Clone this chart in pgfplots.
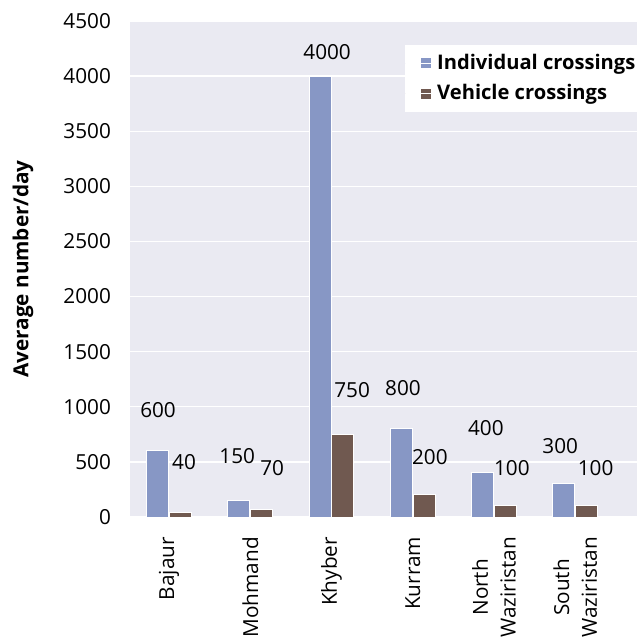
\documentclass[border=0pt]{standalone}
\usepackage{pgfplots}
\pgfplotsset{compat=1.18}
\usepackage{fontspec}
\setmainfont{Open Sans}
\definecolor{bg}{HTML}{EAEAF2}
\definecolor{cblue}{HTML}{8797C5}
\definecolor{cbrown}{HTML}{705950}
\begin{document}
\fontsize{20.8}{28}\selectfont
\begin{tikzpicture}
\begin{axis}[
 scale only axis, width=507bp, height=496bp,
 xmin=-0.48, xmax=5.76, ymin=0, ymax=4500,
 axis background/.style={fill=bg},
 axis line style={draw=none},
 major tick length=0pt,
 /pgf/number format/assume math mode=true,
 scaled y ticks=false,
 yticklabel style={/pgf/number format/1000 sep={}},
 ytick={0,500,...,4500},
 ymajorgrids, grid style={white, line width=1.3bp},
 xtick={0,1,2,3,4,5},
 xticklabels={Bajaur, Mohmand, Khyber, Kurram, North\\Waziristan, South\\Waziristan},
 xticklabel style={rotate=90, anchor=east, align=center},
 xticklabel shift=13bp,
 yticklabel shift=12bp,
 ylabel={Average number/day},
 ylabel style={at={(axis description cs:-0.211,0.5)}, anchor=center, font=\bfseries},
 legend style={at={(0.5424,0.9516)}, anchor=north west, fill=white, draw=none,
   font=\fontsize{20.2}{24}\selectfont\bfseries,
   inner xsep=0bp, inner ysep=8bp, row sep=10bp, nodes={inner ysep=1bp}},
 legend cell align=left,
 legend image code/.code={\fill[#1, draw=none] (15bp,-5bp) rectangle (25bp,5bp); \path (0bp,0bp) -- (29bp,0bp);},
]
\addplot[ybar, bar width=0.27, bar shift=-0.14, fill=cblue, draw=white, line width=1bp]
 coordinates {(0,600)(1,150)(2,4000)(3,800)(4,400)(5,300)};
\addlegendentry{Individual crossings}
\addplot[ybar, bar width=0.27, bar shift=0.14, fill=cbrown, draw=white, line width=1bp]
 coordinates {(0,40)(1,70)(2,750)(3,200)(4,100)(5,100)};
\addlegendentry{Vehicle crossings}
\node at (axis cs:-0.135,971) {600};
\node at (axis cs:0.185,500) {40};
\node at (axis cs:0.84,553) {150};
\node at (axis cs:1.27,445) {70};
\node at (axis cs:1.946,4222) {4000};
\node at (axis cs:2.254,1152) {750};
\node at (axis cs:2.88,1170) {800};
\node at (axis cs:3.21,544) {200};
\node at (axis cs:3.90,808) {400};
\node at (axis cs:4.22,445) {100};
\node at (axis cs:4.815,644) {300};
\node at (axis cs:5.25,445) {100};
\end{axis}
\pgfresetboundingbox
\path ([shift={(-130bp,-120bp)}]current axis.south west) rectangle ([shift={(6bp,21bp)}]current axis.north east);
\end{tikzpicture}
\end{document}
